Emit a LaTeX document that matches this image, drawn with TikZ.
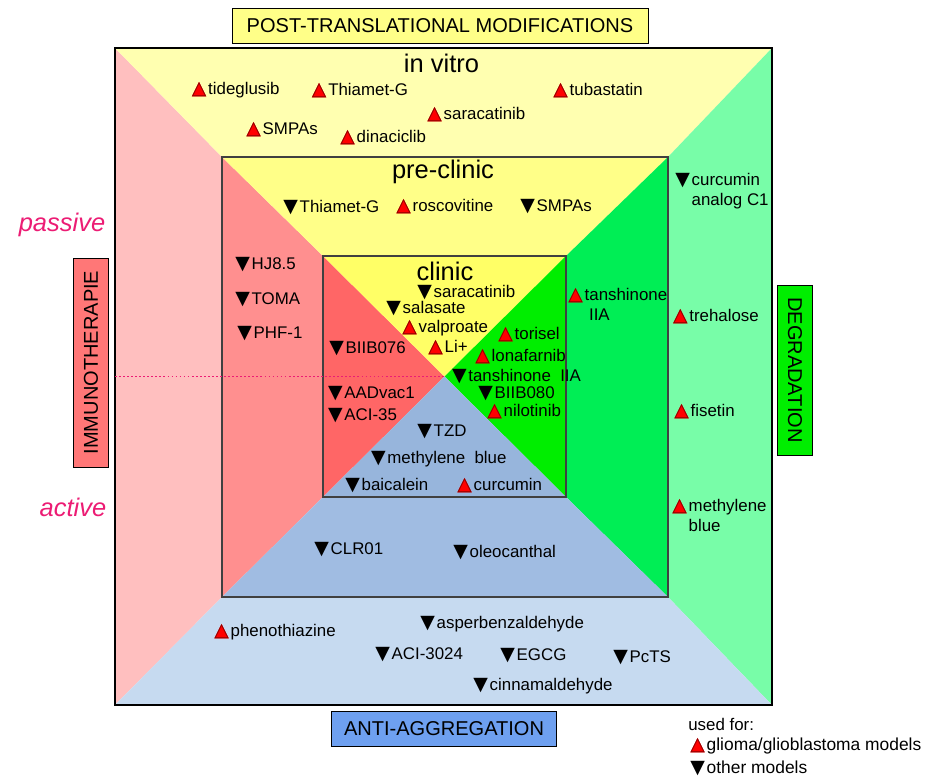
\documentclass[tikz,border=0pt]{standalone}
\usepackage{fontspec}
\setmainfont{Liberation Sans}
\newfontfamily\symf{DejaVu Sans}
\usepackage{xcolor}
\usepackage{tikz}
\usetikzlibrary{positioning}
\definecolor{pinkL}{HTML}{FFBFBF}
\definecolor{yelL}{HTML}{FFFFB0}
\definecolor{grnL}{HTML}{78FDA8}
\definecolor{bluL}{HTML}{C6DAF0}
\definecolor{pinkM}{HTML}{FF8F8F}
\definecolor{yelM}{HTML}{FFFF88}
\definecolor{grnM}{HTML}{00EE55}
\definecolor{bluM}{HTML}{A0BCE2}
\definecolor{redC}{HTML}{FF6666}
\definecolor{yelC}{HTML}{FFFF66}
\definecolor{grnC}{HTML}{00EE00}
\definecolor{bluC}{HTML}{97B5DC}
\definecolor{ptmbox}{HTML}{FFFF88}
\definecolor{aggbox}{HTML}{6EA0F0}
\definecolor{immbox}{HTML}{FF7777}
\definecolor{degbox}{HTML}{00EE00}
\definecolor{modecol}{HTML}{EC1C74}
\newcommand\glio{{\symf\fontsize{10.8}{11}\selectfont\makebox[0pt][l]{\textcolor{red}{▲}}\textcolor{red!55!black}{△}}\hspace{1pt}}
\newcommand\othr{{\symf\fontsize{10.8}{11}\selectfont ▼}\hspace{1pt}}
\tikzstyle{item}=[anchor=base west,inner sep=0pt,font=\fontsize{9.6}{11.5}\selectfont]
\tikzstyle{level}=[inner sep=0pt,font=\fontsize{14.5}{17}\selectfont]
\tikzstyle{topic}=[draw,thin,inner sep=0pt,font=\fontsize{11.4}{13}\selectfont,minimum height=0.7cm]
\tikzstyle{mode}=[inner sep=0pt,text=modecol,font=\fontsize{14.5}{17}\selectfont\itshape]

\begin{document}
\begin{tikzpicture}[x=0.02cm,y=-0.02cm]
        \useasboundingbox (0,0) rectangle (926,776);
        % corners of the three frames
        \coordinate (O1) at (115,48);  \coordinate (O2) at (772,48);
        \coordinate (O3) at (772,705); \coordinate (O4) at (115,705);
        \coordinate (P1) at (222,157); \coordinate (P2) at (668,157);
        \coordinate (P3) at (668,597); \coordinate (P4) at (222,597);
        \coordinate (C1) at (323,256); \coordinate (C2) at (566,256);
        \coordinate (C3) at (566,497); \coordinate (C4) at (323,497);
        \coordinate (X) at (444.5,376.5);
        \coordinate (L) at (115,376.5);
        % in vitro
        \fill[pinkL] (O1) -- (P1) -- (P4) -- (O4) -- cycle;
        \fill[yelL] (O1) -- (O2) -- (P2) -- (P1) -- cycle;
        \fill[grnL] (O2) -- (O3) -- (P3) -- (P2) -- cycle;
        \fill[bluL] (O4) -- (O3) -- (P3) -- (P4) -- cycle;
        % pre-clinic
        \fill[pinkM] (P1) -- (C1) -- (C4) -- (P4) -- cycle;
        \fill[yelM] (P1) -- (P2) -- (C2) -- (C1) -- cycle;
        \fill[grnM] (P2) -- (P3) -- (C3) -- (C2) -- cycle;
        \fill[bluM] (P4) -- (P3) -- (C3) -- (C4) -- cycle;
        % clinic
        \fill[redC] (C1) -- (X) -- (C4) -- cycle;
        \fill[yelC] (C1) -- (C2) -- (X) -- cycle;
        \fill[grnC] (C2) -- (C3) -- (X) -- cycle;
        \fill[bluC] (C4) -- (C3) -- (X) -- cycle;
        \draw[black,line width=0.6pt] (O1) rectangle (O3);
        \draw[black!75,line width=0.8pt] (P1) rectangle (P3);
        \draw[black!75,line width=0.8pt] (C1) rectangle (C3);
        \draw[modecol,line width=1pt,dash pattern=on 1pt off 1.3pt] (L) -- (X);

        \node at (440,25.5) [topic,fill=ptmbox,minimum width=8.32cm] (ptm) {POST-TRANSLATIONAL MODIFICATIONS};
        \node at (444,728.5) [topic,fill=aggbox,minimum width=4.5cm] (agg) {ANTI-AGGREGATION};
        \node at (91,362.5) [topic,fill=immbox,rotate=90,minimum width=4.18cm] (imm) {IMMUNOTHERAPIE};
        \node at (795,370) [topic,fill=degbox,rotate=-90,minimum width=3.4cm] (deg) {DEGRADATION};
        \node at (62,225) [mode] (pas) {passive};
        \node at (73,507) [mode] (act) {active};

        \node at (441.5,63) [level] (vitro) {in vitro};
        \node at (443,171.5) [level] (pre) {pre-clinic};
        \node at (445,271.5) [level] (cli) {clinic};

        % in vitro
        \node at (191.5,95) [item] (iv1) {\glio tideglusib};
        \node at (311.6,96) [item] (iv2) {\glio Thiamet-G};
        \node at (553,96) [item] (iv3) {\glio tubastatin};
        \node at (427,120) [item] (iv4) {\glio saracatinib};
        \node at (246,135) [item] (iv5) {\glio SMPAs};
        \node at (340,143) [item] (iv6) {\glio dinaciclib};
        \node at (675,185.7) [item] (iv7) {\othr\begin{tabular}[t]{@{}l@{}}curcumin\\analog C1\end{tabular}};
        \node at (672.7,321.7) [item] (iv8) {\glio trehalose};
        \node at (674,417) [item] (iv9) {\glio fisetin};
        \node at (672,511.7) [item] (iv10) {\glio\begin{tabular}[t]{@{}l@{}}methylene\\blue\end{tabular}};
        \node at (214,636) [item] (iv11) {\glio phenothiazine};
        \node at (420,628) [item] (iv12) {\othr asperbenzaldehyde};
        \node at (375,659) [item] (iv13) {\othr ACI-3024};
        \node at (500,660) [item] (iv14) {\othr EGCG};
        \node at (613,662.7) [item] (iv15) {\othr PcTS};
        \node at (473,690) [item] (iv16) {\othr cinnamaldehyde};
        % pre-clinic
        \node at (283,213) [item] (pc1) {\othr Thiamet-G};
        \node at (396,212) [item] (pc2) {\glio roscovitine};
        \node at (520,212) [item] (pc3) {\othr SMPAs};
        \node at (235,270) [item] (pc4) {\othr HJ8.5};
        \node at (235,305) [item] (pc5) {\othr TOMA};
        \node at (237,339) [item] (pc6) {\othr PHF-1};
        \node at (568,300.7) [item] (pc7) {\glio\begin{tabular}[t]{@{}l@{}}tanshinone\\\hspace{2.5pt}IIA\end{tabular}};
        \node at (314,554) [item] (pc8) {\othr CLR01};
        \node at (453,557) [item] (pc9) {\othr oleocanthal};
        % clinic
        \node at (417,298) [item] (cl1) {\othr saracatinib};
        \node at (386,314) [item] (cl2) {\othr salasate};
        \node at (402,333) [item] (cl3) {\glio valproate};
        \node at (428,352.7) [item] (cl4) {\glio Li+};
        \node at (329,354) [item] (cl5) {\othr BIIB076};
        \node at (327.7,399) [item] (cl6) {\othr AADvac1};
        \node at (327.7,420.7) [item] (cl7) {\othr ACI-35};
        \node at (498,340) [item] (cl8) {\glio torisel};
        \node at (475,361.7) [item] (cl9) {\glio lonafarnib};
        \node at (451.7,382) [item] (cl10) {\othr tanshinone\ \ IIA};
        \node at (478,399) [item] (cl11) {\othr BIIB080};
        \node at (487,416.7) [item] (cl12) {\glio nilotinib};
        \node at (417,436.7) [item] (cl13) {\othr TZD};
        \node at (370.7,463) [item] (cl14) {\othr methylene\ \ blue};
        \node at (345,490.7) [item] (cl15) {\othr baicalein};
        \node at (457,490.7) [item] (cl16) {\glio curcumin};
        % legend
        \node at (688,730) [item] (key) {used for:};
        \node at (690,750) [item,font=\fontsize{9.9}{11.5}\selectfont] (key1) {\glio glioma/glioblastoma models};
        \node at (690,773) [item,font=\fontsize{9.9}{11.5}\selectfont] (key2) {\othr other models};
      \end{tikzpicture}
\end{document}
